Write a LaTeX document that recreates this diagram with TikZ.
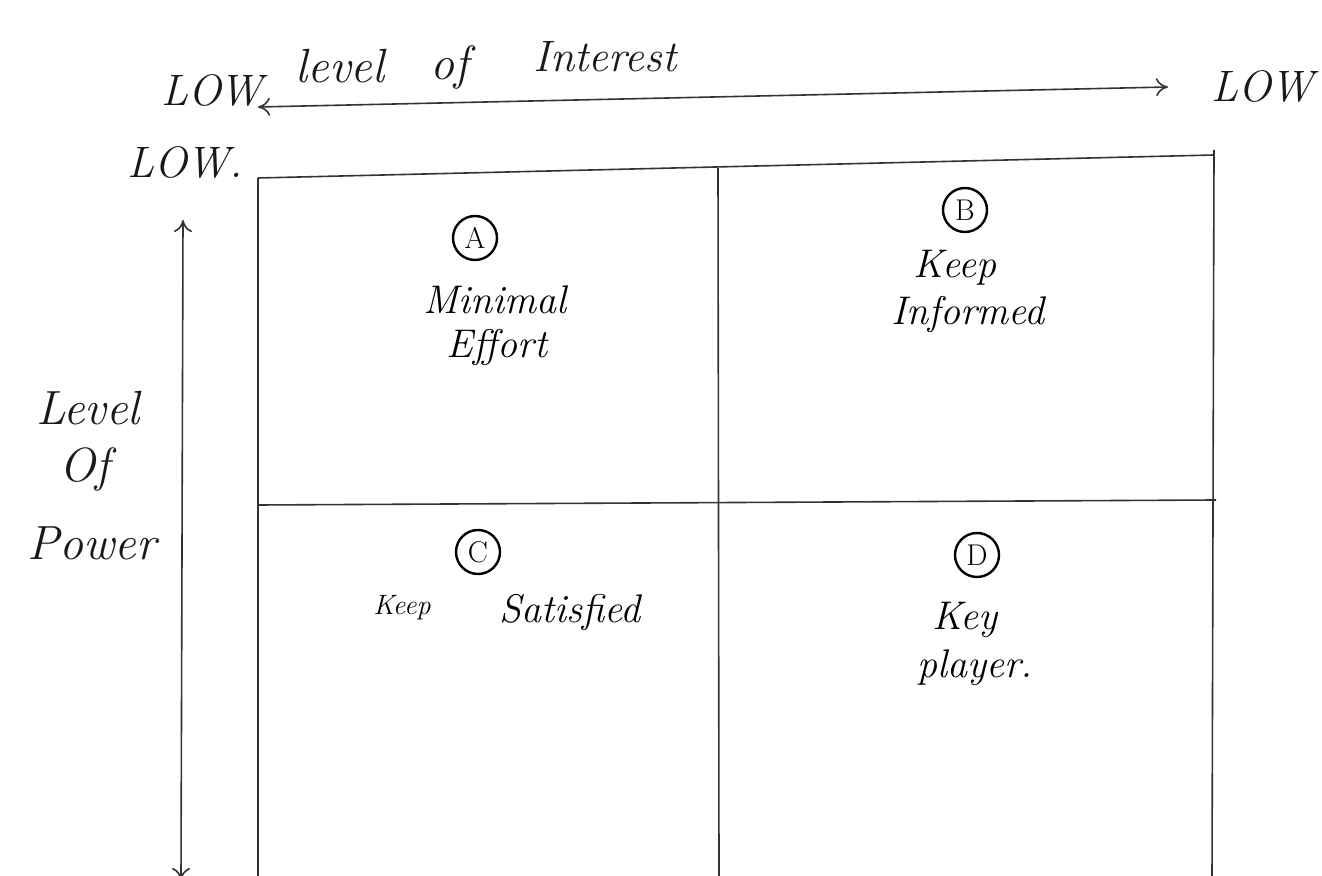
\documentclass[tikz,border=0pt]{standalone}
\usetikzlibrary{arrows.meta}
\begin{document}
\begin{tikzpicture}[x=0.5pt,y=-0.5pt,
  ink/.style={draw=black!80, line width=0.8pt},
  axis/.style={ink, {To[length=6pt,width=9pt]}-{To[length=6pt,width=9pt]}},
  hand/.style={font=\fontsize{24}{28}\selectfont\itshape, text=black!90, inner sep=1pt},
  quad/.style={font=\fontsize{20}{24}\selectfont\itshape, text=black, inner sep=1pt},
  small/.style={font=\fontsize{14}{16}\selectfont\itshape, text=black, inner sep=1pt},
  handsm/.style={font=\fontsize{22}{26}\selectfont\itshape, text=black!90, inner sep=1pt},
  tag/.style={circle, draw=black, line width=1.2pt, minimum size=22pt, inner sep=0pt,
              font=\fontsize{15}{17}\selectfont}
]
\useasboundingbox (0,0) rectangle (1322,876);
\fill[white] (0,0) rectangle (1322,876);

% axis labels
\node[hand] (lvl)  at (340,66) {level};
\node[hand] (of)   at (450,68) {of};
\node[handsm] (int)  at (605,57) {Interest};
\node[handsm] (lowl) at (212,90) {LOW};
\node[handsm] (lowr) at (1262,86) {LOW};
\node[handsm] (lowt) at (185,162) {LOW.};
\node[hand] (lev)  at (88,408) {Level};
\node[hand] (ofp)  at (85,470) {Of};
\node[hand] (pow)  at (92,543) {Power};

% interest axis
\coordinate (ia) at (258,107);
\coordinate (ib) at (1168,87);
\draw[axis] (ia) -- (ib);

% power axis
\coordinate (pa) at (183,220);
\coordinate (pb) at (181,880);
\draw[axis] (pb) -- (pa);

% grid
\coordinate (g1) at (258,178);
\coordinate (g2) at (718,168);
\coordinate (g3) at (1214,155);
\coordinate (m1) at (258,505);
\coordinate (m3) at (1216,500);
\draw[ink] (g1) -- (g3);
\draw[ink] (m1) -- (m3);
\draw[ink] (g1) -- (258,876);
\draw[ink] (g2) -- (719,876);
\draw[ink] (1214,150) -- (1212,876);

% quadrant A
\node[tag] (ta) at (475,238) {A};
\node[quad] (a1) at (495,300) {Minimal};
\node[quad] (a2) at (497,348) {Effort};
% quadrant B
\node[tag] (tb) at (965,210) {B};
\node[quad] (b1) at (955,268) {Keep};
\node[quad] (b2) at (968,315) {Informed};
% quadrant C
\node[tag] (tc) at (478,552) {C};
\node[small] (c1) at (402,608) {Keep};
\node[quad] (c2) at (570,612) {Satisfied};
% quadrant D
\node[tag] (td) at (977,555) {D};
\node[quad] (d1) at (965,620) {Key};
\node[quad] (d2) at (975,668) {player.};
\end{tikzpicture}
\end{document}
